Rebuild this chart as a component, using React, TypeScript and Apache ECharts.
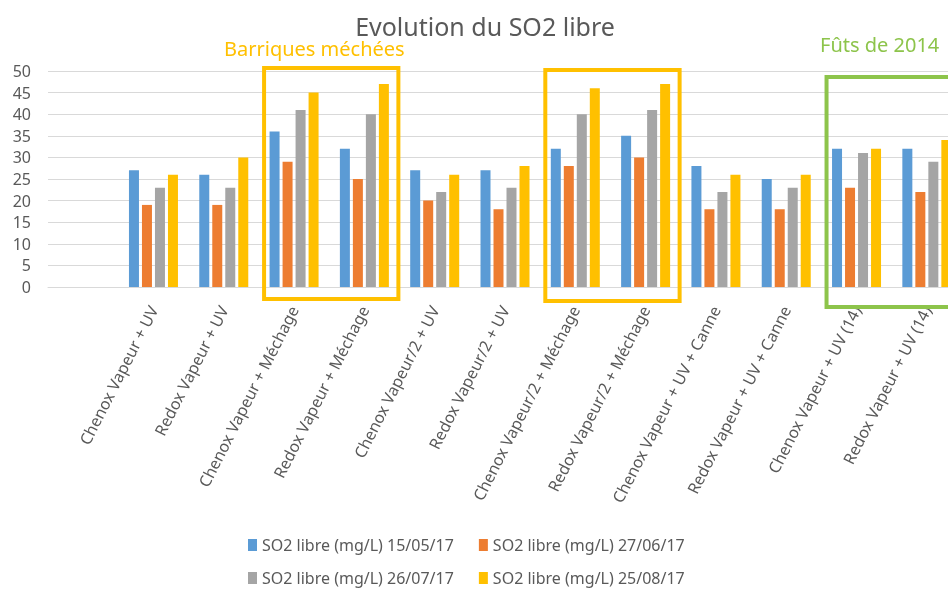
import React, { useEffect, useRef } from "react";
import * as echarts from "echarts";

const categories = [
  "",
  "Chenox Vapeur + UV",
  "Redox Vapeur + UV",
  "Chenox Vapeur + Méchage",
  "Redox Vapeur + Méchage",
  "Chenox Vapeur/2 + UV",
  "Redox Vapeur/2 + UV",
  "Chenox Vapeur/2 + Méchage",
  "Redox Vapeur/2 + Méchage",
  "Chenox Vapeur + UV + Canne",
  "Redox Vapeur + UV + Canne",
  "Chenox Vapeur + UV (14)",
  "Redox Vapeur + UV (14)",
];

const seriesNames = [
  "SO2 libre (mg/L) 15/05/17",
  "SO2 libre (mg/L) 27/06/17",
  "SO2 libre (mg/L) 26/07/17",
  "SO2 libre (mg/L) 25/08/17",
];

const s150517 = [null, 27, 26, 36, 32, 27, 27, 32, 35, 28, 25, 32, 32];
const s270617 = [null, 19, 19, 29, 25, 20, 18, 28, 30, 18, 18, 23, 22];
const s260717 = [null, 23, 23, 41, 40, 22, 23, 40, 41, 22, 23, 31, 29];
const s250817 = [null, 26, 30, 45, 47, 26, 28, 46, 47, 26, 26, 32, 34];

const colors = ["#5B9BD5", "#ED7D31", "#A5A5A5", "#FFC000"];
const yTicks = { min: 0, max: 50, interval: 5 };

export default function App() {
  const ref = useRef<HTMLDivElement>(null);
  useEffect(() => {
    if (!ref.current) return;
    const chart = echarts.init(ref.current, null, { renderer: "svg" });
    const font = "Noto Sans";
    const data = [s150517, s270617, s260717, s250817];
    const legendCommon = {
      left: 243,
      itemWidth: 9,
      itemHeight: 12,
      itemGap: 25,
      icon: "rect",
      textStyle: { fontSize: 16, color: "#595959", fontFamily: font },
    };
    chart.setOption({
      animation: false,
      textStyle: { fontFamily: font },
      grid: { left: 48, top: 71, right: 0, height: 216, containLabel: false },
      xAxis: {
        type: "category",
        data: categories,
        axisTick: { show: false },
        axisLine: { lineStyle: { color: "#D9D9D9" } },
        axisLabel: {
          interval: 0,
          rotate: 63,
          fontSize: 16,
          color: "#595959",
          margin: 20,
          fontFamily: font,
        },
      },
      yAxis: {
        type: "value",
        min: yTicks.min,
        max: yTicks.max,
        interval: yTicks.interval,
        axisLine: { show: false },
        axisTick: { show: false },
        splitLine: { lineStyle: { color: "#D9D9D9" } },
        axisLabel: { fontSize: 16, color: "#595959", margin: 17, fontFamily: font },
      },
      legend: [
        { ...legendCommon, data: [seriesNames[0], seriesNames[1]], top: 532 },
        { ...legendCommon, data: [seriesNames[2], seriesNames[3]], top: 565 },
      ],
      series: seriesNames.map((n, i) => ({
        name: n,
        type: "bar",
        data: data[i],
        barWidth: 10,
        barGap: "30%",
        itemStyle: { color: colors[i] },
      })),
    });

    const px = (i: number) => chart.convertToPixel({ xAxisIndex: 0 }, categories[i]) as number;
    const box = (a: number, b: number, top: number, bottom: number, color: string) => ({
      type: "rect",
      shape: { x: px(a) - 30, y: top, width: px(b) + 34 - (px(a) - 30), height: bottom - top },
      style: { fill: "none", stroke: color, lineWidth: 4 },
      z: 10,
    });
    chart.setOption({
      graphic: [
        {
          type: "text",
          x: 485,
          y: 26,
          style: {
            text: "Evolution du SO2 libre",
            fontSize: 25,
            fill: "#595959",
            fontFamily: font,
            align: "center",
            verticalAlign: "middle",
          },
        },
        {
          type: "text",
          x: 224,
          y: 48,
          style: {
            text: "Barriques méchées",
            fontSize: 20,
            fill: "#FFC000",
            fontFamily: font,
            align: "left",
            verticalAlign: "middle",
          },
        },
        {
          type: "text",
          x: 820,
          y: 44,
          style: {
            text: "Fûts de 2014",
            fontSize: 20,
            fill: "#8DC44B",
            fontFamily: font,
            align: "left",
            verticalAlign: "middle",
          },
        },
        box(3, 4, 68, 299, "#FFC000"),
        box(7, 8, 70, 301, "#FFC000"),
        box(11, 12, 77, 307, "#8DC44B"),
      ],
    });
    return () => chart.dispose();
  }, []);
  return (
    <div
      ref={ref}
      style={{ position: "fixed", left: 0, top: 0, width: 962, height: 590 }}
    />
  );
}
